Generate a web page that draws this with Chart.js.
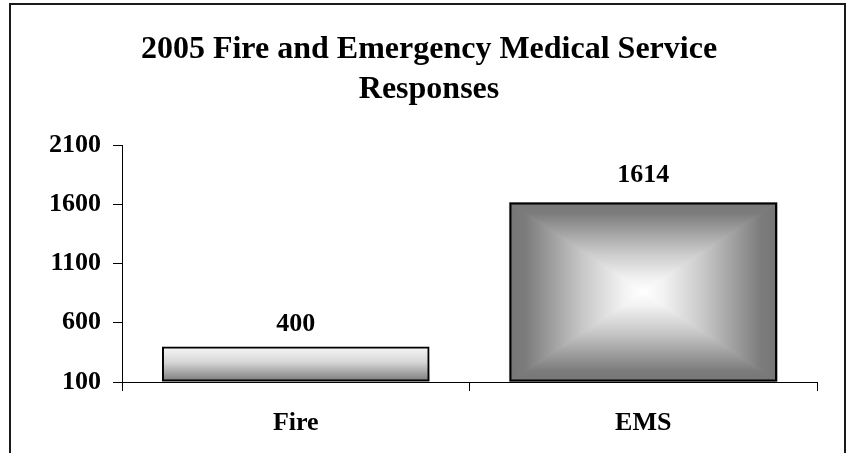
<!DOCTYPE html>
<html>
<head>
<meta charset="utf-8">
<script src="https://cdn.jsdelivr.net/npm/chart.js@4.4.1/dist/chart.umd.min.js"></script>
<style>
  html, body { margin: 0; padding: 0; background: #fff; }
  canvas { display: block; }
</style>
</head>
<body>
<canvas id="chartResponses" width="850" height="453"></canvas>
<script>
"use strict";

// ── Data ──
const CATEGORIES = ["Fire", "EMS"];
const RESPONSES  = [400, 1614];
const Y_TICKS    = [100, 600, 1100, 1600, 2100];
const TITLE      = ["2005 Fire and Emergency Medical Service", "Responses"];

const FONT = "'Liberation Serif', 'Times New Roman', serif";

// ── Outer frame ──
const framePlugin = {
  id: "frame",
  beforeDraw(chart) {
    const ctx = chart.ctx;
    ctx.save();
    ctx.fillStyle = "#fff";
    ctx.fillRect(0, 0, chart.width, chart.height);
    ctx.strokeStyle = "#1a1a1a";
    ctx.lineWidth = 2;
    ctx.strokeRect(10, 4, 835, chart.height + 10);
    ctx.restore();
  }
};

// ── Gradient bar fills (drawn under the library's borders) ──
const barFillPlugin = {
  id: "barFill",
  beforeDatasetsDraw(chart) {
    const ctx = chart.ctx;
    const meta = chart.getDatasetMeta(0);
    meta.data.forEach((el, i) => {
      const { x, y, base, width } = el.getProps(["x", "y", "base", "width"], true);
      const l = x - width / 2, r = x + width / 2, t = y, b = base;
      ctx.save();
      if (i === 0) {
        const g = ctx.createLinearGradient(0, t, 0, b);
        g.addColorStop(0, "#f8f8f8");
        g.addColorStop(0.45, "#d6d6d6");
        g.addColorStop(1, "#7a7a7a");
        ctx.fillStyle = g;
        ctx.fillRect(l, t, r - l, b - t);
      } else {
        // rectangular "from centre" gradient: four triangles
        const cx = (l + r) / 2, cy = (t + b) / 2;
        const stops = g => {
          g.addColorStop(0, "#767676");
          g.addColorStop(0.12, "#7c7c7c");
          g.addColorStop(0.55, "#c8c8c8");
          g.addColorStop(0.85, "#f2f2f2");
          g.addColorStop(1, "#ffffff");
          return g;
        };
        const tri = (pts, g) => {
          ctx.beginPath();
          ctx.moveTo(pts[0][0], pts[0][1]);
          for (let k = 1; k < pts.length; k++) ctx.lineTo(pts[k][0], pts[k][1]);
          ctx.closePath();
          ctx.fillStyle = g;
          ctx.strokeStyle = g;
          ctx.lineWidth = 1;
          ctx.fill();
          ctx.stroke();
        };
        tri([[l, t], [r, t], [cx, cy]], stops(ctx.createLinearGradient(0, t, 0, cy)));
        tri([[l, b], [r, b], [cx, cy]], stops(ctx.createLinearGradient(0, b, 0, cy)));
        tri([[l, t], [l, b], [cx, cy]], stops(ctx.createLinearGradient(l, 0, cx, 0)));
        tri([[r, t], [r, b], [cx, cy]], stops(ctx.createLinearGradient(r, 0, cx, 0)));
      }
      ctx.restore();
    });
  }
};

// ── Value labels above bars ──
const valueLabelPlugin = {
  id: "valueLabels",
  afterDatasetsDraw(chart, args, opts) {
    const ctx = chart.ctx;
    const meta = chart.getDatasetMeta(0);
    ctx.save();
    ctx.font = "bold 26px " + FONT;
    ctx.fillStyle = "#000";
    ctx.textAlign = "center";
    ctx.textBaseline = "alphabetic";
    meta.data.forEach((el, i) => {
      const gap = opts.gaps[i] || 16;
      ctx.fillText(String(chart.data.datasets[0].data[i]), el.x, el.y - gap);
    });
    ctx.restore();
  }
};

new Chart(document.getElementById("chartResponses").getContext("2d"), {
  type: "bar",
  data: {
    labels: CATEGORIES,
    datasets: [{
      data: RESPONSES,
      base: Y_TICKS[0],
      backgroundColor: "rgba(0,0,0,0)",
      borderColor: "#000",
      borderWidth: 2,
      borderSkipped: false,
      barPercentage: 0.77,
      categoryPercentage: 1
    }]
  },
  options: {
    responsive: false,
    animation: false,
    layout: { padding: { top: 0, left: 41, right: 33, bottom: 0 } },
    plugins: {
      legend: { display: false },
      tooltip: { enabled: false },
      title: {
        display: true,
        text: TITLE,
        color: "#000",
        font: { family: FONT, size: 32, weight: "bold", lineHeight: 1.25 },
        padding: { top: 30, bottom: 35 }
      },
      valueLabels: { gaps: [15, 21] }
    },
    scales: {
      x: {
        grid: { offset: true, drawOnChartArea: false, drawTicks: true, tickLength: 9, color: "#000" },
        border: { color: "#000", width: 1 },
        ticks: { color: "#000", padding: 17, font: { family: FONT, size: 26, weight: "bold" } },
        afterFit(scale) { scale.height = 71; }
      },
      y: {
        min: Y_TICKS[0],
        max: Y_TICKS[Y_TICKS.length - 1],
        afterBuildTicks(scale) { scale.ticks = Y_TICKS.map(v => ({ value: v })); },
        grid: { drawOnChartArea: false, drawTicks: true, tickLength: 9, color: "#000" },
        border: { color: "#000", width: 1 },
        ticks: {
          color: "#000", padding: 12,
          font: { family: FONT, size: 26, weight: "bold" },
          callback: v => String(v)
        },
        afterFit(scale) { scale.width = 81; }
      }
    }
  },
  plugins: [framePlugin, barFillPlugin, valueLabelPlugin]
});
</script>
</body>
</html>
